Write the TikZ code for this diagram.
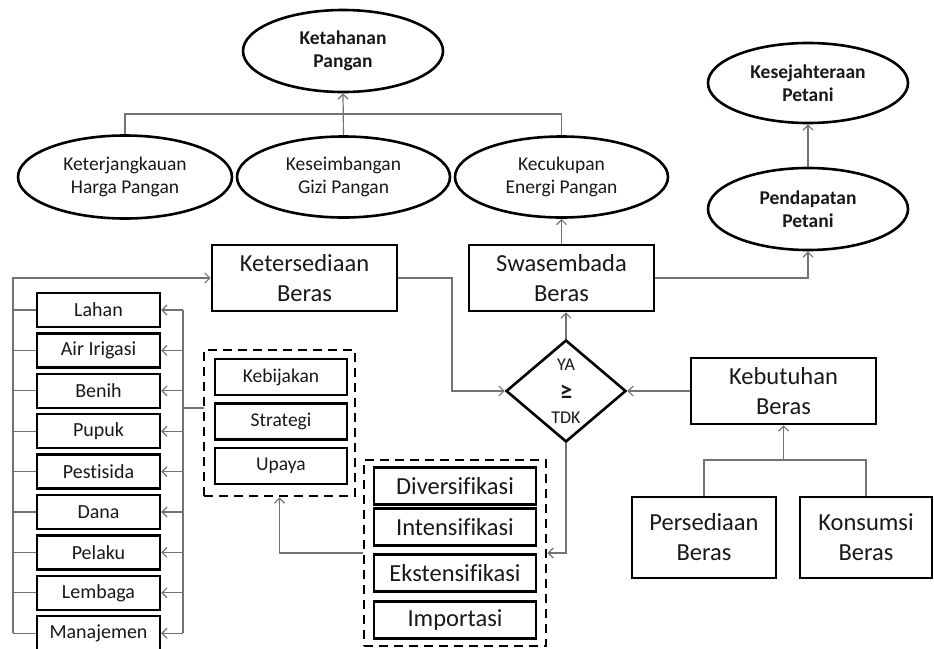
\documentclass[tikz,border=0pt]{standalone}
\usepackage{fontspec}
\setmainfont{Carlito}[Ligatures=CommonOff]
\usetikzlibrary{shapes.geometric,arrows.meta}
\begin{document}
\begin{tikzpicture}[x=1pt,y=-1pt,
  conn/.style={draw=black!55, line width=1.2pt, -{Straight Barb[length=5pt,width=10pt]}},
  plain/.style={draw=black!55, line width=1.2pt},
  ell/.style={ellipse, draw, line width=2.6pt, inner sep=0pt, align=center, text=black!90, font=\fontsize{19.5}{23.5}\selectfont},
  bell/.style={ell, font=\bfseries\fontsize{19.5}{23.5}\selectfont},
  bigbox/.style={rectangle, draw, line width=2.6pt, inner sep=0pt, align=center, text=black!90, font=\fontsize{24.5}{30}\selectfont},
  colbox/.style={rectangle, draw, line width=2.4pt, inner sep=0pt, align=center, text=black!90, minimum width=123pt, minimum height=34pt, font=\fontsize{20}{24}\selectfont},
  midbox/.style={rectangle, draw, line width=2.4pt, inner sep=0pt, align=center, text=black!90, minimum width=132pt, minimum height=36pt, font=\fontsize{19.5}{23}\selectfont},
  actbox/.style={rectangle, draw, line width=2.6pt, inner sep=0pt, align=center, text=black!90, minimum width=162pt, minimum height=37pt, font=\fontsize{24.5}{30}\selectfont},
  grp/.style={rectangle, draw, line width=2.8pt, dash pattern=on 9pt off 6pt, inner sep=0pt},
  dtext/.style={inner sep=0pt, text=black!90, font=\fontsize{18}{20}\selectfont}
]
\useasboundingbox (0,0) rectangle (934,648);
\fill[white] (0,0) rectangle (934,648);

% ellipses
\node[bell, minimum width=200pt, minimum height=82pt] (kp) at (343,51) {Ketahanan\\Pangan};
\node[ell, minimum width=214pt, minimum height=83pt] (kh) at (125,177) {Keterjangkauan\\Harga Pangan};
\node[ell, minimum width=213pt, minimum height=81pt] (kg) at (343.5,177) {Keseimbangan\\Gizi Pangan};
\node[ell, minimum width=213pt, minimum height=81pt] (ke) at (561.5,177) {Kecukupan\\Energi Pangan};
\node[bell, minimum width=200pt, minimum height=80pt] (ks) at (808,83) {Kesejahteraan\\Petani};
\node[bell, minimum width=200pt, minimum height=82pt] (pp) at (808,209) {Pendapatan\\Petani};

% main boxes
\node[bigbox, minimum width=185pt, minimum height=66pt] (ket) at (304.5,278) {Ketersediaan\\Beras};
\node[bigbox, minimum width=185pt, minimum height=66pt] (swa) at (561.5,278) {Swasembada\\Beras};
\node[bigbox, minimum width=185pt, minimum height=66pt] (keb) at (783.5,391) {Kebutuhan\\Beras};
\node[bigbox, minimum width=144pt, minimum height=81pt] (per) at (704,537.5) {Persediaan\\Beras};
\node[bigbox, minimum width=132pt, minimum height=81pt] (kon) at (866,537.5) {Konsumsi\\Beras};

% decision diamond
\node[diamond, draw, line width=2.6pt, inner sep=0pt, minimum width=120pt, minimum height=102pt] (dia) at (566,391) {};
\node[dtext] (ya) at (566,365) {YA};
\node[dtext, font=\bfseries\fontsize{25}{27}\selectfont] (ge) at (566,392) {≥};
\node[dtext] (tdk) at (566,418) {TDK};

% left column
\node[colbox] (b1) at (98.5,310) {Lahan};
\node[colbox] (b2) at (98.5,350.4) {Air Irigasi};
\node[colbox] (b3) at (98.5,390.8) {Benih};
\node[colbox] (b4) at (98.5,431.2) {Pupuk};
\node[colbox] (b5) at (98.5,471.6) {Pestisida};
\node[colbox] (b6) at (98.5,512) {Dana};
\node[colbox] (b7) at (98.5,552.4) {Pelaku};
\node[colbox] (b8) at (98.5,592.8) {Lembaga};
\node[colbox] (b9) at (98.5,633.2) {Manajemen};

% policy group
\node[grp, minimum width=151pt, minimum height=146pt] (g1) at (279.5,423) {};
\node[midbox] (m1) at (281,377) {Kebijakan};
\node[midbox] (m2) at (281,421.5) {Strategi};
\node[midbox] (m3) at (281,466) {Upaya};

% action group
\node[grp, minimum width=182pt, minimum height=186pt] (g2) at (455,553) {};
\node[actbox] (a1) at (455,486) {Diversifikasi};
\node[actbox] (a2) at (455,527) {Intensifikasi};
\node[actbox] (a3) at (455,573) {Ekstensifikasi};
\node[actbox] (a4) at (455,620) {Importasi};

% coordinates
\coordinate (bus1) at (343.5,114);
\coordinate (j1) at (452,278);
\coordinate (bus2) at (783.5,460);
\coordinate (rail) at (183,408);
\coordinate (lrail) at (13,278);
\coordinate (g1w) at (204,408);

% connectors top
\draw[plain] (kh.north) |- (bus1) -| (ke.north);
\draw[conn] (kg.north) -- (kp.south);
\draw[conn] (swa.north) -- (ke.south);
\draw[conn] (swa.east) -| (pp.south);
\draw[conn] (pp.north) -- (ks.south);

% centre
\draw[conn] (ket.east) -- (j1) |- (dia.west);
\draw[conn] (keb.west) -- (dia.east);
\draw[conn] (dia.north) -- (dia.north |- swa.south);
\draw[plain] (per.north) |- (bus2) -| (kon.north);
\draw[conn] (bus2) -- (keb.south);
\draw[conn] (dia.south) |- (g2.east);
\draw[conn] (g2.west) -| (g1.south);

% left rails
\draw[plain] (g1w) -- (rail);
\draw[plain] (rail |- b1.east) -- (rail |- b9.east);
\foreach \b in {b1,b2,b3,b4,b5,b6,b7,b8,b9}{
  \draw[conn] (rail |- \b.east) -- (\b.east);
  \draw[plain] (lrail |- \b.west) -- (\b.west);
}
\draw[conn] (lrail |- b9.west) -- (lrail) -- (ket.west);
\end{tikzpicture}
\end{document}
